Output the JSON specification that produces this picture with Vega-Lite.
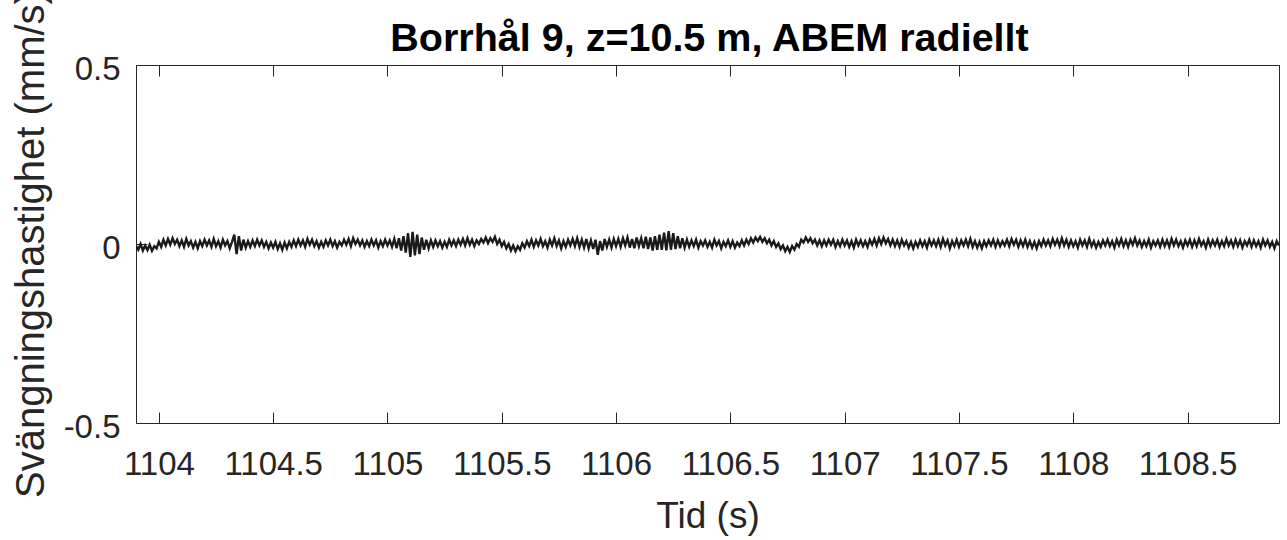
{
"$schema": "https://vega.github.io/schema/vega-lite/v6.json",
"width": 1143, "height": 358,
"autosize": {"type": "none"},
"padding": {"left": 136, "top": 65, "right": 8, "bottom": 117},
"background": "white",
"config": {
  "font": "Liberation Sans",
  "view": {"stroke": "#262626", "strokeWidth": 1},
  "axis": {"grid": false, "domain": false, "tickColor": "#262626", "tickWidth": 1, "labelColor": "#262626", "titleColor": "#262626", "labelFont": "Liberation Sans", "titleFont": "Liberation Sans", "titleFontWeight": "normal"}
},
"data": {"values": [
{"t":1103.90,"v":-0.006},{"t":1103.91,"v":-0.016},{"t":1103.92,"v":0.000},{"t":1103.93,"v":-0.018},{"t":1103.94,"v":-0.004},{"t":1103.95,"v":-0.017},{"t":1103.96,"v":-0.002},{"t":1103.97,"v":-0.019},{"t":1103.98,"v":-0.006},{"t":1103.99,"v":-0.012},
{"t":1104.00,"v":0.006},{"t":1104.01,"v":-0.008},{"t":1104.02,"v":0.012},{"t":1104.03,"v":-0.004},{"t":1104.04,"v":0.014},{"t":1104.05,"v":-0.002},{"t":1104.06,"v":0.016},{"t":1104.07,"v":0.000},{"t":1104.08,"v":0.012},{"t":1104.09,"v":-0.006},
{"t":1104.10,"v":0.010},{"t":1104.11,"v":-0.008},{"t":1104.12,"v":0.014},{"t":1104.13,"v":-0.004},{"t":1104.14,"v":0.008},{"t":1104.15,"v":-0.010},{"t":1104.16,"v":0.006},{"t":1104.17,"v":-0.012},{"t":1104.18,"v":0.008},{"t":1104.19,"v":-0.006},
{"t":1104.20,"v":0.012},{"t":1104.21,"v":-0.004},{"t":1104.22,"v":0.010},{"t":1104.23,"v":-0.008},{"t":1104.24,"v":0.014},{"t":1104.25,"v":-0.006},{"t":1104.26,"v":0.008},{"t":1104.27,"v":-0.010},{"t":1104.28,"v":0.012},{"t":1104.29,"v":-0.004},
{"t":1104.30,"v":0.008},{"t":1104.31,"v":-0.012},{"t":1104.32,"v":0.006},{"t":1104.33,"v":0.026},{"t":1104.34,"v":-0.028},{"t":1104.35,"v":0.022},{"t":1104.36,"v":-0.018},{"t":1104.37,"v":0.012},{"t":1104.38,"v":-0.010},{"t":1104.39,"v":0.008},
{"t":1104.40,"v":-0.008},{"t":1104.41,"v":0.010},{"t":1104.42,"v":-0.006},{"t":1104.43,"v":0.012},{"t":1104.44,"v":-0.004},{"t":1104.45,"v":0.010},{"t":1104.46,"v":-0.008},{"t":1104.47,"v":0.006},{"t":1104.48,"v":-0.012},{"t":1104.49,"v":0.004},
{"t":1104.50,"v":-0.010},{"t":1104.51,"v":0.006},{"t":1104.52,"v":-0.014},{"t":1104.53,"v":0.002},{"t":1104.54,"v":-0.016},{"t":1104.55,"v":0.004},{"t":1104.56,"v":-0.012},{"t":1104.57,"v":0.006},{"t":1104.58,"v":-0.008},{"t":1104.59,"v":0.010},
{"t":1104.60,"v":-0.006},{"t":1104.61,"v":0.012},{"t":1104.62,"v":-0.004},{"t":1104.63,"v":0.010},{"t":1104.64,"v":-0.008},{"t":1104.65,"v":0.014},{"t":1104.66,"v":-0.002},{"t":1104.67,"v":0.012},{"t":1104.68,"v":-0.006},{"t":1104.69,"v":0.008},
{"t":1104.70,"v":-0.010},{"t":1104.71,"v":0.006},{"t":1104.72,"v":-0.008},{"t":1104.73,"v":0.010},{"t":1104.74,"v":-0.004},{"t":1104.75,"v":0.012},{"t":1104.76,"v":-0.006},{"t":1104.77,"v":0.008},{"t":1104.78,"v":-0.010},{"t":1104.79,"v":0.006},
{"t":1104.80,"v":-0.004},{"t":1104.81,"v":0.012},{"t":1104.82,"v":-0.002},{"t":1104.83,"v":0.014},{"t":1104.84,"v":-0.006},{"t":1104.85,"v":0.016},{"t":1104.86,"v":0.000},{"t":1104.87,"v":0.012},{"t":1104.88,"v":-0.004},{"t":1104.89,"v":0.010},
{"t":1104.90,"v":-0.008},{"t":1104.91,"v":0.008},{"t":1104.92,"v":-0.006},{"t":1104.93,"v":0.012},{"t":1104.94,"v":-0.004},{"t":1104.95,"v":0.010},{"t":1104.96,"v":-0.010},{"t":1104.97,"v":0.008},{"t":1104.98,"v":-0.006},{"t":1104.99,"v":0.012},
{"t":1105.00,"v":-0.004},{"t":1105.01,"v":0.010},{"t":1105.02,"v":-0.008},{"t":1105.03,"v":0.014},{"t":1105.04,"v":-0.012},{"t":1105.05,"v":0.016},{"t":1105.06,"v":-0.018},{"t":1105.07,"v":0.022},{"t":1105.08,"v":-0.024},{"t":1105.09,"v":0.030},
{"t":1105.10,"v":-0.036},{"t":1105.11,"v":0.034},{"t":1105.12,"v":-0.032},{"t":1105.13,"v":0.026},{"t":1105.14,"v":-0.028},{"t":1105.15,"v":0.018},{"t":1105.16,"v":-0.016},{"t":1105.17,"v":0.012},{"t":1105.18,"v":-0.012},{"t":1105.19,"v":0.010},
{"t":1105.20,"v":-0.008},{"t":1105.21,"v":0.010},{"t":1105.22,"v":-0.006},{"t":1105.23,"v":0.008},{"t":1105.24,"v":-0.010},{"t":1105.25,"v":0.006},{"t":1105.26,"v":-0.008},{"t":1105.27,"v":0.012},{"t":1105.28,"v":-0.004},{"t":1105.29,"v":0.010},
{"t":1105.30,"v":-0.006},{"t":1105.31,"v":0.012},{"t":1105.32,"v":-0.002},{"t":1105.33,"v":0.014},{"t":1105.34,"v":-0.004},{"t":1105.35,"v":0.016},{"t":1105.36,"v":-0.002},{"t":1105.37,"v":0.012},{"t":1105.38,"v":-0.006},{"t":1105.39,"v":0.010},
{"t":1105.40,"v":0.000},{"t":1105.41,"v":0.014},{"t":1105.42,"v":0.004},{"t":1105.43,"v":0.018},{"t":1105.44,"v":0.002},{"t":1105.45,"v":0.016},{"t":1105.46,"v":0.006},{"t":1105.47,"v":0.020},{"t":1105.48,"v":0.000},{"t":1105.49,"v":0.012},
{"t":1105.50,"v":-0.006},{"t":1105.51,"v":0.006},{"t":1105.52,"v":-0.012},{"t":1105.53,"v":0.000},{"t":1105.54,"v":-0.018},{"t":1105.55,"v":-0.004},{"t":1105.56,"v":-0.020},{"t":1105.57,"v":-0.006},{"t":1105.58,"v":-0.016},{"t":1105.59,"v":0.002},
{"t":1105.60,"v":-0.010},{"t":1105.61,"v":0.008},{"t":1105.62,"v":-0.006},{"t":1105.63,"v":0.012},{"t":1105.64,"v":-0.008},{"t":1105.65,"v":0.010},{"t":1105.66,"v":-0.004},{"t":1105.67,"v":0.014},{"t":1105.68,"v":-0.006},{"t":1105.69,"v":0.008},
{"t":1105.70,"v":-0.010},{"t":1105.71,"v":0.012},{"t":1105.72,"v":-0.004},{"t":1105.73,"v":0.016},{"t":1105.74,"v":-0.006},{"t":1105.75,"v":0.010},{"t":1105.76,"v":-0.012},{"t":1105.77,"v":0.008},{"t":1105.78,"v":-0.008},{"t":1105.79,"v":0.012},
{"t":1105.80,"v":-0.004},{"t":1105.81,"v":0.014},{"t":1105.82,"v":-0.006},{"t":1105.83,"v":0.016},{"t":1105.84,"v":-0.008},{"t":1105.85,"v":0.012},{"t":1105.86,"v":-0.010},{"t":1105.87,"v":0.014},{"t":1105.88,"v":-0.012},{"t":1105.89,"v":0.010},
{"t":1105.90,"v":-0.014},{"t":1105.91,"v":0.012},{"t":1105.92,"v":-0.030},{"t":1105.93,"v":0.008},{"t":1105.94,"v":-0.018},{"t":1105.95,"v":0.014},{"t":1105.96,"v":-0.008},{"t":1105.97,"v":0.012},{"t":1105.98,"v":-0.010},{"t":1105.99,"v":0.014},
{"t":1106.00,"v":-0.006},{"t":1106.01,"v":0.014},{"t":1106.02,"v":-0.008},{"t":1106.03,"v":0.016},{"t":1106.04,"v":-0.004},{"t":1106.05,"v":0.018},{"t":1106.06,"v":-0.010},{"t":1106.07,"v":0.014},{"t":1106.08,"v":-0.012},{"t":1106.09,"v":0.018},
{"t":1106.10,"v":-0.006},{"t":1106.11,"v":0.016},{"t":1106.12,"v":-0.012},{"t":1106.13,"v":0.020},{"t":1106.14,"v":-0.014},{"t":1106.15,"v":0.018},{"t":1106.16,"v":-0.018},{"t":1106.17,"v":0.022},{"t":1106.18,"v":-0.016},{"t":1106.19,"v":0.026},
{"t":1106.20,"v":-0.016},{"t":1106.21,"v":0.032},{"t":1106.22,"v":-0.018},{"t":1106.23,"v":0.036},{"t":1106.24,"v":-0.016},{"t":1106.25,"v":0.030},{"t":1106.26,"v":-0.014},{"t":1106.27,"v":0.022},{"t":1106.28,"v":-0.012},{"t":1106.29,"v":0.016},
{"t":1106.30,"v":-0.010},{"t":1106.31,"v":0.012},{"t":1106.32,"v":-0.008},{"t":1106.33,"v":0.010},{"t":1106.34,"v":-0.006},{"t":1106.35,"v":0.012},{"t":1106.36,"v":-0.010},{"t":1106.37,"v":0.008},{"t":1106.38,"v":-0.004},{"t":1106.39,"v":0.010},
{"t":1106.40,"v":-0.008},{"t":1106.41,"v":0.006},{"t":1106.42,"v":-0.010},{"t":1106.43,"v":0.012},{"t":1106.44,"v":-0.004},{"t":1106.45,"v":0.008},{"t":1106.46,"v":-0.012},{"t":1106.47,"v":0.006},{"t":1106.48,"v":-0.006},{"t":1106.49,"v":0.010},
{"t":1106.50,"v":-0.008},{"t":1106.51,"v":0.008},{"t":1106.52,"v":-0.010},{"t":1106.53,"v":0.004},{"t":1106.54,"v":-0.006},{"t":1106.55,"v":0.010},{"t":1106.56,"v":-0.004},{"t":1106.57,"v":0.012},{"t":1106.58,"v":0.000},{"t":1106.59,"v":0.016},
{"t":1106.60,"v":0.004},{"t":1106.61,"v":0.018},{"t":1106.62,"v":0.008},{"t":1106.63,"v":0.020},{"t":1106.64,"v":0.006},{"t":1106.65,"v":0.016},{"t":1106.66,"v":0.002},{"t":1106.67,"v":0.012},{"t":1106.68,"v":-0.004},{"t":1106.69,"v":0.008},
{"t":1106.70,"v":-0.008},{"t":1106.71,"v":0.002},{"t":1106.72,"v":-0.014},{"t":1106.73,"v":-0.004},{"t":1106.74,"v":-0.020},{"t":1106.75,"v":-0.008},{"t":1106.76,"v":-0.022},{"t":1106.77,"v":-0.006},{"t":1106.78,"v":-0.016},{"t":1106.79,"v":0.000},
{"t":1106.80,"v":-0.008},{"t":1106.81,"v":0.012},{"t":1106.82,"v":0.004},{"t":1106.83,"v":0.018},{"t":1106.84,"v":0.006},{"t":1106.85,"v":0.016},{"t":1106.86,"v":0.002},{"t":1106.87,"v":0.012},{"t":1106.88,"v":-0.004},{"t":1106.89,"v":0.010},
{"t":1106.90,"v":-0.006},{"t":1106.91,"v":0.010},{"t":1106.92,"v":-0.004},{"t":1106.93,"v":0.012},{"t":1106.94,"v":-0.002},{"t":1106.95,"v":0.012},{"t":1106.96,"v":-0.008},{"t":1106.97,"v":0.008},{"t":1106.98,"v":-0.006},{"t":1106.99,"v":0.012},
{"t":1107.00,"v":-0.004},{"t":1107.01,"v":0.010},{"t":1107.02,"v":-0.008},{"t":1107.03,"v":0.008},{"t":1107.04,"v":-0.010},{"t":1107.05,"v":0.012},{"t":1107.06,"v":-0.004},{"t":1107.07,"v":0.010},{"t":1107.08,"v":-0.006},{"t":1107.09,"v":0.008},
{"t":1107.10,"v":-0.008},{"t":1107.11,"v":0.012},{"t":1107.12,"v":-0.002},{"t":1107.13,"v":0.014},{"t":1107.14,"v":-0.004},{"t":1107.15,"v":0.016},{"t":1107.16,"v":0.000},{"t":1107.17,"v":0.018},{"t":1107.18,"v":0.002},{"t":1107.19,"v":0.014},
{"t":1107.20,"v":-0.004},{"t":1107.21,"v":0.012},{"t":1107.22,"v":-0.006},{"t":1107.23,"v":0.010},{"t":1107.24,"v":-0.008},{"t":1107.25,"v":0.012},{"t":1107.26,"v":-0.004},{"t":1107.27,"v":0.008},{"t":1107.28,"v":-0.010},{"t":1107.29,"v":0.006},
{"t":1107.30,"v":-0.012},{"t":1107.31,"v":0.006},{"t":1107.32,"v":-0.008},{"t":1107.33,"v":0.010},{"t":1107.34,"v":-0.006},{"t":1107.35,"v":0.008},{"t":1107.36,"v":-0.010},{"t":1107.37,"v":0.012},{"t":1107.38,"v":-0.004},{"t":1107.39,"v":0.010},
{"t":1107.40,"v":-0.006},{"t":1107.41,"v":0.012},{"t":1107.42,"v":-0.008},{"t":1107.43,"v":0.014},{"t":1107.44,"v":-0.004},{"t":1107.45,"v":0.010},{"t":1107.46,"v":-0.012},{"t":1107.47,"v":0.008},{"t":1107.48,"v":-0.006},{"t":1107.49,"v":0.012},
{"t":1107.50,"v":-0.008},{"t":1107.51,"v":0.010},{"t":1107.52,"v":-0.004},{"t":1107.53,"v":0.012},{"t":1107.54,"v":-0.006},{"t":1107.55,"v":0.014},{"t":1107.56,"v":-0.008},{"t":1107.57,"v":0.008},{"t":1107.58,"v":-0.010},{"t":1107.59,"v":0.006},
{"t":1107.60,"v":-0.012},{"t":1107.61,"v":0.008},{"t":1107.62,"v":-0.006},{"t":1107.63,"v":0.010},{"t":1107.64,"v":-0.004},{"t":1107.65,"v":0.012},{"t":1107.66,"v":-0.008},{"t":1107.67,"v":0.010},{"t":1107.68,"v":-0.006},{"t":1107.69,"v":0.008},
{"t":1107.70,"v":-0.004},{"t":1107.71,"v":0.012},{"t":1107.72,"v":-0.006},{"t":1107.73,"v":0.014},{"t":1107.74,"v":-0.002},{"t":1107.75,"v":0.012},{"t":1107.76,"v":-0.008},{"t":1107.77,"v":0.010},{"t":1107.78,"v":-0.006},{"t":1107.79,"v":0.012},
{"t":1107.80,"v":-0.008},{"t":1107.81,"v":0.008},{"t":1107.82,"v":-0.010},{"t":1107.83,"v":0.006},{"t":1107.84,"v":-0.012},{"t":1107.85,"v":0.008},{"t":1107.86,"v":-0.006},{"t":1107.87,"v":0.012},{"t":1107.88,"v":-0.004},{"t":1107.89,"v":0.010},
{"t":1107.90,"v":-0.006},{"t":1107.91,"v":0.014},{"t":1107.92,"v":-0.002},{"t":1107.93,"v":0.012},{"t":1107.94,"v":-0.006},{"t":1107.95,"v":0.016},{"t":1107.96,"v":-0.004},{"t":1107.97,"v":0.012},{"t":1107.98,"v":-0.008},{"t":1107.99,"v":0.010},
{"t":1108.00,"v":-0.006},{"t":1108.01,"v":0.008},{"t":1108.02,"v":-0.010},{"t":1108.03,"v":0.012},{"t":1108.04,"v":-0.004},{"t":1108.05,"v":0.010},{"t":1108.06,"v":-0.008},{"t":1108.07,"v":0.014},{"t":1108.08,"v":-0.006},{"t":1108.09,"v":0.008},
{"t":1108.10,"v":-0.010},{"t":1108.11,"v":0.006},{"t":1108.12,"v":-0.008},{"t":1108.13,"v":0.010},{"t":1108.14,"v":-0.004},{"t":1108.15,"v":0.012},{"t":1108.16,"v":-0.006},{"t":1108.17,"v":0.008},{"t":1108.18,"v":-0.010},{"t":1108.19,"v":0.012},
{"t":1108.20,"v":-0.004},{"t":1108.21,"v":0.014},{"t":1108.22,"v":-0.006},{"t":1108.23,"v":0.010},{"t":1108.24,"v":-0.008},{"t":1108.25,"v":0.012},{"t":1108.26,"v":-0.002},{"t":1108.27,"v":0.016},{"t":1108.28,"v":-0.004},{"t":1108.29,"v":0.010},
{"t":1108.30,"v":-0.008},{"t":1108.31,"v":0.008},{"t":1108.32,"v":-0.006},{"t":1108.33,"v":0.012},{"t":1108.34,"v":-0.010},{"t":1108.35,"v":0.008},{"t":1108.36,"v":-0.004},{"t":1108.37,"v":0.010},{"t":1108.38,"v":-0.008},{"t":1108.39,"v":0.012},
{"t":1108.40,"v":-0.006},{"t":1108.41,"v":0.010},{"t":1108.42,"v":-0.008},{"t":1108.43,"v":0.014},{"t":1108.44,"v":-0.004},{"t":1108.45,"v":0.012},{"t":1108.46,"v":-0.006},{"t":1108.47,"v":0.008},{"t":1108.48,"v":-0.010},{"t":1108.49,"v":0.010},
{"t":1108.50,"v":-0.004},{"t":1108.51,"v":0.012},{"t":1108.52,"v":-0.008},{"t":1108.53,"v":0.010},{"t":1108.54,"v":-0.006},{"t":1108.55,"v":0.014},{"t":1108.56,"v":-0.004},{"t":1108.57,"v":0.008},{"t":1108.58,"v":-0.010},{"t":1108.59,"v":0.012},
{"t":1108.60,"v":-0.006},{"t":1108.61,"v":0.010},{"t":1108.62,"v":-0.004},{"t":1108.63,"v":0.012},{"t":1108.64,"v":-0.008},{"t":1108.65,"v":0.008},{"t":1108.66,"v":-0.006},{"t":1108.67,"v":0.014},{"t":1108.68,"v":-0.004},{"t":1108.69,"v":0.010},
{"t":1108.70,"v":-0.008},{"t":1108.71,"v":0.012},{"t":1108.72,"v":-0.006},{"t":1108.73,"v":0.010},{"t":1108.74,"v":-0.010},{"t":1108.75,"v":0.008},{"t":1108.76,"v":-0.004},{"t":1108.77,"v":0.012},{"t":1108.78,"v":-0.008},{"t":1108.79,"v":0.010},
{"t":1108.80,"v":-0.006},{"t":1108.81,"v":0.008},{"t":1108.82,"v":-0.010},{"t":1108.83,"v":0.012},{"t":1108.84,"v":-0.004},{"t":1108.85,"v":0.010},{"t":1108.86,"v":-0.008},{"t":1108.87,"v":0.006},{"t":1108.88,"v":-0.012},{"t":1108.89,"v":0.008},
{"t":1108.90,"v":-0.004}
]},
"layer": [
  {
    "mark": {"type": "line", "color": "#1a1a1a", "strokeWidth": 2.4, "strokeJoin": "miter", "clip": true},
    "encoding": {
      "x": {"field": "t", "type": "quantitative",
        "scale": {"domain": [1103.9, 1108.9], "nice": false, "zero": false},
        "axis": {"orient": "bottom", "values": [1104, 1104.5, 1105, 1105.5, 1106, 1106.5, 1107, 1107.5, 1108, 1108.5],
          "labelExpr": "'' + datum.value", "tickSize": -11, "labelPadding": 36, "labelFontSize": 33, "labelFlush": false, "labelOverlap": false,
          "title": "Tid (s)", "titleFontSize": 37, "titleX": 571.5, "titleY": 104, "titleBaseline": "alphabetic", "titleAlign": "center", "titleAnchor": null}},
      "y": {"field": "v", "type": "quantitative",
        "scale": {"domain": [-0.5, 0.5], "nice": false, "zero": false},
        "axis": {"orient": "left", "values": [-0.5, 0, 0.5],
          "labelExpr": "'' + datum.value", "tickSize": -11, "labelPadding": 27, "labelFontSize": 33, "labelOffset": 4, "labelFlush": false, "labelOverlap": false,
          "title": "Svängningshastighet (mm/s)", "titleFontSize": 40, "titleX": -93, "titleY": 179, "titleAngle": -90, "titleBaseline": "alphabetic", "titleAlign": "center", "titleAnchor": null}}
    }
  },
  {
    "mark": {"type": "line", "opacity": 0},
    "encoding": {
      "x": {"field": "t", "type": "quantitative",
        "scale": {"domain": [1103.9, 1108.9], "nice": false, "zero": false},
        "axis": {"orient": "top", "values": [1104, 1104.5, 1105, 1105.5, 1106, 1106.5, 1107, 1107.5, 1108, 1108.5], "labels": false, "tickSize": -11,
          "title": "Borrhål 9, z=10.5 m, ABEM radiellt", "titleFontSize": 39.5, "titleFontWeight": "bold", "titleColor": "#000000", "titleX": 573, "titleY": -15, "titleBaseline": "alphabetic", "titleAlign": "center", "titleAnchor": null}},
      "y": {"field": "v", "type": "quantitative",
        "scale": {"domain": [-0.5, 0.5], "nice": false, "zero": false},
        "axis": {"orient": "right", "values": [-0.5, 0, 0.5], "labels": false, "tickSize": -11, "title": null}}
    }
  }
],
"resolve": {"axis": {"x": "independent", "y": "independent"}}
}
